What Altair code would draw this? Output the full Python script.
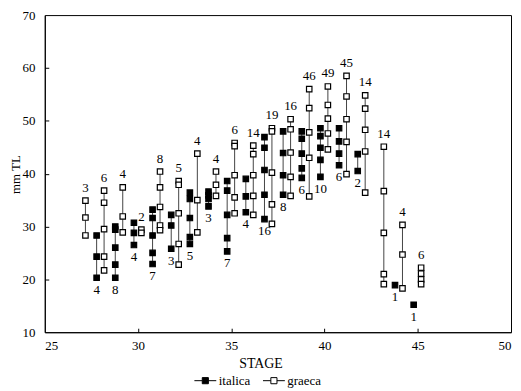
import altair as alt
import pandas as pd

# ---- data ----
italica_stages = [28, 29, 30, 31, 32, 33, 34, 35, 36, 37, 38, 39, 40, 41, 42, 44, 45]
italica_n = [4, 8, 4, 7, 3, 5, 3, 7, 4, 16, 8, 6, 10, 6, 2, 1, 1]
italica_values = [
    [28.3, 24.3, 20.3],
    [30.0, 29.4, 26.0, 22.8, 20.3],
    [30.7, 28.8, 26.5],
    [33.2, 31.6, 28.3, 25.0, 22.9],
    [32.2, 30.2, 25.8],
    [36.4, 35.2, 31.6, 28.0, 26.7],
    [36.6, 35.9, 35.2, 33.8],
    [38.6, 36.8, 32.2, 27.8, 25.3],
    [39.0, 35.7, 32.7],
    [46.9, 44.9, 40.7, 36.0, 31.4],
    [48.0, 43.9, 39.7, 36.0],
    [48.0, 46.6, 43.8, 41.0, 39.2],
    [48.6, 47.1, 44.9, 42.6, 39.4],
    [48.6, 46.1, 43.8, 41.6],
    [43.7, 40.5],
    [18.9],
    [15.2],
]

graeca_stages = [27, 28, 29, 30, 31, 32, 33, 34, 35, 36, 37, 38, 39, 40, 41, 42, 43, 44, 45]
graeca_n = [3, 6, 4, 2, 8, 5, 4, 4, 6, 14, 19, 16, 46, 49, 45, 14, 14, 4, 6]
graeca_values = [
    [34.9, 31.7, 28.3],
    [36.8, 34.5, 29.5, 24.3, 21.7],
    [37.4, 31.9, 28.9],
    [29.4, 28.8],
    [40.4, 37.4, 33.7, 30.2, 29.3],
    [38.6, 37.9, 32.5, 26.7, 22.8],
    [43.8, 35.0, 28.9],
    [40.4, 37.9, 35.8],
    [45.8, 45.2, 39.7, 35.5, 32.5],
    [45.3, 43.7, 39.7, 35.8, 32.2],
    [48.6, 48.0, 40.2, 34.2, 30.5],
    [50.3, 48.4, 44.0, 39.4, 35.8],
    [56.0, 52.4, 47.8, 43.0, 35.7],
    [56.5, 53.0, 50.4, 47.6, 44.6],
    [58.5, 54.6, 50.3, 46.0, 39.9],
    [54.8, 52.3, 48.3, 44.2, 36.4],
    [45.1, 36.7, 28.8, 21.0, 19.1],
    [30.3, 24.7, 18.3],
    [22.2, 21.1, 20.0, 19.1],
]

x_ticks = [25, 30, 35, 40, 45, 50]
y_ticks = [10, 20, 30, 40, 50, 60, 70]
series_order = ["italica", "graeca"]

rows, ranges = [], []
for series, stages, ns, vals in [
    ("italica", italica_stages, italica_n, italica_values),
    ("graeca", graeca_stages, graeca_n, graeca_values),
]:
    for st, n, v in zip(stages, ns, vals):
        for val in v:
            rows.append({"series": series, "stage": st, "value": val})
        ranges.append({"series": series, "stage": st, "lo": min(v), "hi": max(v), "n": str(n)})

pts = pd.DataFrame(rows)
rng = pd.DataFrame(ranges)

FONT = "Liberation Serif"
XPOS = "datum.series == 'italica' ? datum.stage - 0.22 : datum.stage + 0.18"

xscale = alt.Scale(domain=[25, 50], nice=False, zero=False)
yscale = alt.Scale(domain=[10, 70], nice=False, zero=False)

x_main = alt.Axis(values=x_ticks, tickSize=0, title="STAGE", labelPadding=7,
                  titlePadding=4, grid=False, orient="bottom", titleX=217)
y_main = alt.Axis(values=y_ticks, tickSize=0, title="mm TL", labelPadding=10,
                  titleX=-29, titleY=160, titleBaseline="middle", titleFontSize=13,
                  grid=False, orient="left")
x_tick = alt.Axis(values=x_ticks[1:-1], tickSize=4, offset=-4, labels=False, domain=False,
                  title=None, grid=False, orient="bottom")
y_tick = alt.Axis(values=y_ticks[1:-1], tickSize=4, offset=-4, labels=False, domain=False,
                  title=None, grid=False, orient="left")

rules = alt.Chart(rng).transform_calculate(xpos=XPOS).mark_rule(
    color="#444444", strokeWidth=1
).encode(
    x=alt.X("xpos:Q", scale=xscale, axis=x_main),
    y=alt.Y("lo:Q", scale=yscale, axis=y_main),
    y2="hi:Q",
)

legend_path = "M-1,0H-0.28M0.28,0H1M-0.28,-0.28H0.28V0.28H-0.28Z"

points = alt.Chart(pts).transform_calculate(xpos=XPOS).mark_point(
    shape="square", filled=True, size=30, stroke="black", strokeWidth=1.2,
    opacity=1, fillOpacity=1
).encode(
    x=alt.X("xpos:Q", scale=xscale, axis=x_tick),
    y=alt.Y("value:Q", scale=yscale, axis=y_tick),
    fill=alt.Fill("series:N", scale=alt.Scale(domain=series_order, range=["black", "white"]),
                  legend=alt.Legend(orient="none", legendX=150, legendY=356,
                                    direction="horizontal", title=None,
                                    symbolType=legend_path, symbolSize=484,
                                    symbolStrokeColor="black", symbolStrokeWidth=1,
                                    symbolOpacity=1,
                                    labelFont=FONT, labelFontSize=13, labelColor="black",
                                    labelOffset=2, columnPadding=10)),
)

text_top = alt.Chart(rng).transform_filter("datum.series == 'graeca'").transform_calculate(
    xpos=XPOS).mark_text(font=FONT, fontSize=13, dy=-13, baseline="middle", color="black").encode(
    x=alt.X("xpos:Q", scale=xscale, axis=None),
    y=alt.Y("hi:Q", scale=yscale, axis=None),
    text="n:N",
)

text_bot = alt.Chart(rng).transform_filter("datum.series == 'italica'").transform_calculate(
    xpos=XPOS).mark_text(font=FONT, fontSize=13, dy=12, baseline="middle", color="black").encode(
    x=alt.X("xpos:Q", scale=xscale, axis=None),
    y=alt.Y("lo:Q", scale=yscale, axis=None),
    text="n:N",
)

chart = alt.layer(rules, points, text_top, text_bot).resolve_axis(
    x="independent", y="independent"
).properties(
    width=469, height=319,
    autosize=alt.AutoSizeParams(type="none"),
    padding={"left": 37, "top": 6, "right": 2, "bottom": 58},
).configure_view(
    stroke="black", strokeWidth=1
).configure_axis(
    domainColor="black", domainWidth=1, tickColor="black", tickWidth=1,
    labelFont=FONT, labelFontSize=13, labelColor="black",
    titleFont=FONT, titleFontSize=14, titleFontWeight="normal", titleColor="black",
)

chart.save("out.html", embed_options={"renderer": "svg", "actions": False})
